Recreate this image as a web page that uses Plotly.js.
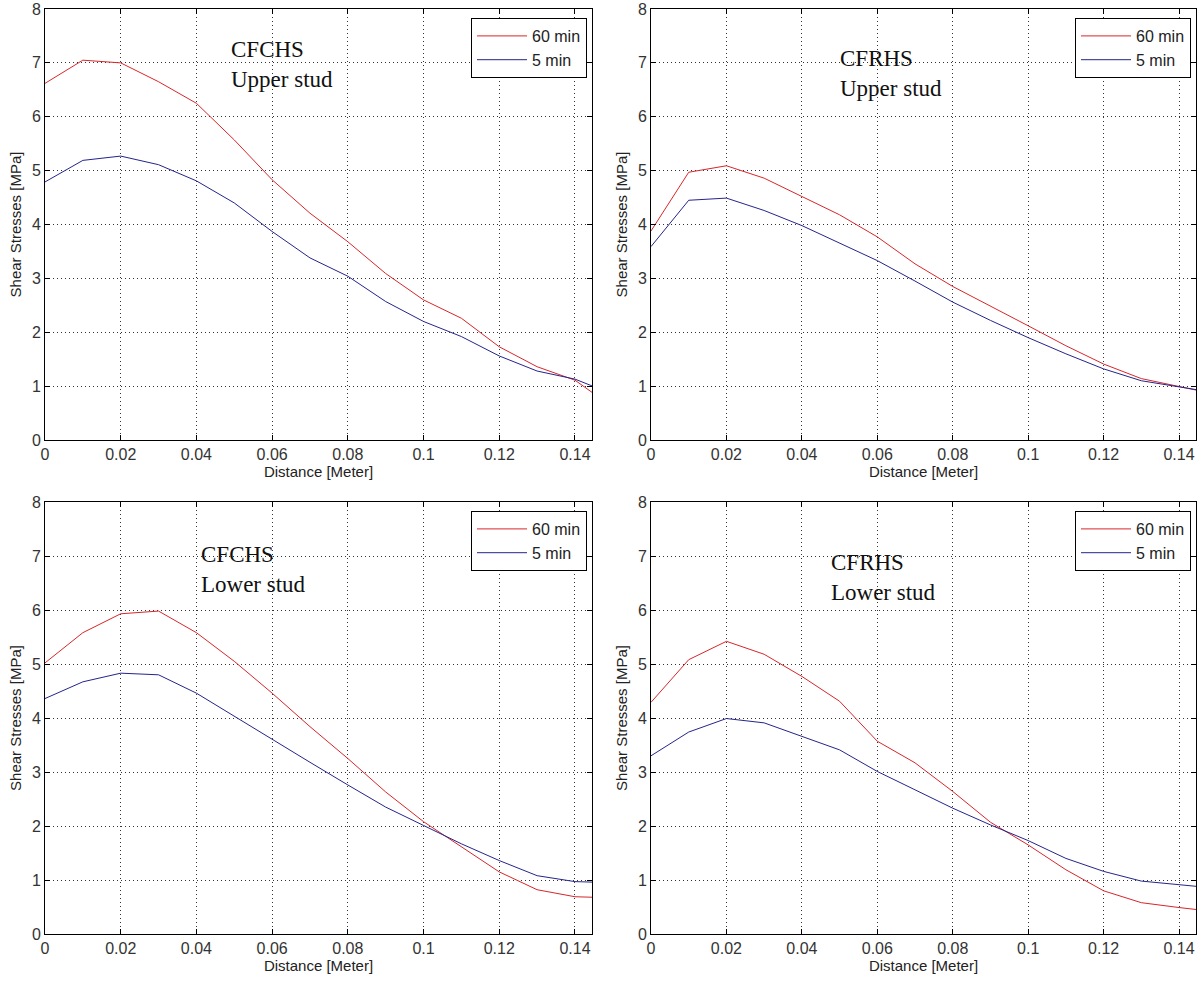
<!DOCTYPE html>
<html>
<head>
<meta charset="utf-8">
<script src="https://cdn.plot.ly/plotly-3.0.1.min.js"></script>
<style>html,body{margin:0;padding:0;background:#fff;}#chart{width:1204px;height:983px;}</style>
</head>
<body>
<div id="chart"></div>
<script>
// Distance [Meter]
var distance = [0, 0.01, 0.02, 0.03, 0.04, 0.05, 0.06, 0.07, 0.08, 0.09, 0.10, 0.11, 0.12, 0.13, 0.14, 0.145];

// CFCHS Upper stud
var cfchsUpper60 = [6.62, 7.05, 7.00, 6.65, 6.25, 5.57, 4.83, 4.21, 3.68, 3.09, 2.60, 2.26, 1.73, 1.36, 1.11, 0.86];
var cfchsUpper5  = [4.79, 5.19, 5.27, 5.11, 4.81, 4.40, 3.87, 3.38, 3.04, 2.57, 2.20, 1.92, 1.56, 1.28, 1.13, 0.99];

// CFRHS Upper stud
var cfrhsUpper60 = [3.88, 4.97, 5.09, 4.86, 4.52, 4.18, 3.77, 3.27, 2.85, 2.49, 2.12, 1.75, 1.41, 1.14, 0.99, 0.92];
var cfrhsUpper5  = [3.59, 4.45, 4.49, 4.26, 3.98, 3.66, 3.33, 2.95, 2.56, 2.22, 1.90, 1.60, 1.32, 1.10, 0.98, 0.93];

// CFCHS Lower stud
var cfchsLower60 = [5.02, 5.58, 5.93, 5.98, 5.58, 5.05, 4.46, 3.84, 3.25, 2.63, 2.08, 1.61, 1.15, 0.82, 0.69, 0.68];
var cfchsLower5  = [4.36, 4.67, 4.83, 4.80, 4.46, 4.03, 3.61, 3.18, 2.76, 2.35, 2.01, 1.67, 1.36, 1.08, 0.97, 0.96];

// CFRHS Lower stud
var cfrhsLower60 = [4.29, 5.08, 5.42, 5.18, 4.77, 4.31, 3.57, 3.17, 2.64, 2.07, 1.65, 1.19, 0.80, 0.58, 0.49, 0.45];
var cfrhsLower5  = [3.30, 3.74, 3.99, 3.91, 3.66, 3.41, 3.01, 2.67, 2.33, 2.02, 1.73, 1.40, 1.16, 0.98, 0.92, 0.88];

var seriesNames = ['60 min', '5 min'];
var xTicks = [0, 0.02, 0.04, 0.06, 0.08, 0.1, 0.12, 0.14];
var xTickLabels = ['0', '0.02', '0.04', '0.06', '0.08', '0.1', '0.12', '0.14'];
var yTicks = [0, 1, 2, 3, 4, 5, 6, 7, 8];
var panelLabels = ['CFCHS<br>Upper stud', 'CFRHS<br>Upper stud', 'CFCHS<br>Lower stud', 'CFRHS<br>Lower stud'];

var RED = '#d8262a', BLUE = '#24248c';
var W = 1204, H = 983;
function px(x) { return x / W; }
function py(y) { return 1 - y / H; }

var panels = [
  {s60: cfchsUpper60, s5: cfchsUpper5, xa: 'x',  ya: 'y',  leg: 'legend',  xd: [45, 592],  yd: [9, 440],   lbl: [229, 35]},
  {s60: cfrhsUpper60, s5: cfrhsUpper5, xa: 'x2', ya: 'y2', leg: 'legend2', xd: [651, 1196], yd: [9, 440],   lbl: [838, 44]},
  {s60: cfchsLower60, s5: cfchsLower5, xa: 'x3', ya: 'y3', leg: 'legend3', xd: [45, 592],  yd: [502, 934], lbl: [199, 540]},
  {s60: cfrhsLower60, s5: cfrhsLower5, xa: 'x4', ya: 'y4', leg: 'legend4', xd: [651, 1196], yd: [502, 934], lbl: [829, 548]}
];

var traces = [];
var layout = {
  width: W, height: H,
  margin: {l: 0, r: 0, t: 0, b: 0},
  paper_bgcolor: '#fff', plot_bgcolor: '#fff',
  font: {family: 'Liberation Sans, Arial, sans-serif', color: '#222', size: 16},
  showlegend: true,
  annotations: []
};

panels.forEach(function (p, i) {
  traces.push({x: distance, y: p.s60, xaxis: p.xa, yaxis: p.ya, mode: 'lines', name: seriesNames[0],
               line: {color: RED, width: 1}, legend: p.leg});
  traces.push({x: distance, y: p.s5, xaxis: p.xa, yaxis: p.ya, mode: 'lines', name: seriesNames[1],
               line: {color: BLUE, width: 1}, legend: p.leg});
  var n = i === 0 ? '' : String(i + 1);
  var common = {
    showline: true, linecolor: '#000', linewidth: 1, mirror: 'ticks',
    ticks: 'inside', ticklen: 5, tickcolor: '#000', tickwidth: 1,
    showgrid: true, gridcolor: '#333', gridwidth: 1, griddash: '1px,3px',
    zeroline: false, automargin: false, fixedrange: true,
    tickfont: {size: 16, color: '#333', family: 'Liberation Sans, Arial, sans-serif'}
  };
  layout['xaxis' + n] = Object.assign({}, common, {
    domain: [px(p.xd[0]), px(p.xd[1])], range: [0, 0.1445],
    tickvals: xTicks, ticktext: xTickLabels, anchor: 'y' + n,
    title: {text: 'Distance [Meter]', font: {size: 15, color: '#222'}, standoff: 4}
  });
  layout['yaxis' + n] = Object.assign({}, common, {
    domain: [py(p.yd[1]), py(p.yd[0])], range: [0, 8],
    tickvals: yTicks, anchor: 'x' + n,
    title: {text: 'Shear Stresses [MPa]', font: {size: 15, color: '#222'}, standoff: 6}
  });
  layout[p.leg] = {
    x: px(p.xd[1] - 5), y: py(p.yd[0] + 9), xanchor: 'right', yanchor: 'top',
    xref: 'paper', yref: 'paper',
    bgcolor: '#fff', bordercolor: '#000', borderwidth: 1, itemwidth: 50,
    font: {size: 16, color: '#222'}, tracegroupgap: 0
  };
  layout.annotations.push({
    xref: 'paper', yref: 'paper', x: px(p.lbl[0]), y: py(p.lbl[1]),
    xanchor: 'left', yanchor: 'top', align: 'left', showarrow: false,
    text: panelLabels[i],
    font: {family: 'Liberation Serif, Times New Roman, serif', size: 23, color: '#111'}
  });
});

Plotly.newPlot('chart', traces, layout, {displayModeBar: false, staticPlot: true});
</script>
</body>
</html>
